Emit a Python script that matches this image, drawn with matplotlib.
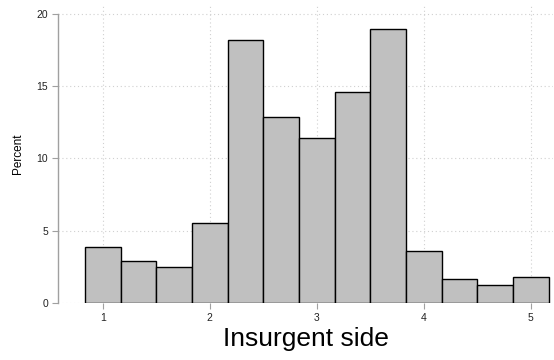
"""
Histogram of insurgent side (percent per bin), Stata-like look
"""

import matplotlib
matplotlib.use("Agg")
import matplotlib.pyplot as plt

plt.rcParams['font.family'] = ['Liberation Sans', 'DejaVu Sans']

# bin centres and percent in each bin
bin_centers = [1.0, 4/3, 5/3, 2.0, 7/3, 8/3, 3.0, 10/3, 11/3, 4.0, 13/3, 14/3, 5.0]
percent = [3.85, 2.88, 2.49, 5.56, 18.22, 12.85, 11.44, 14.58, 18.98, 3.58, 1.64, 1.27, 1.82]
bin_width = 1/3

x_ticks = [1, 2, 3, 4, 5]
y_ticks = [0, 5, 10, 15, 20]

fig = plt.figure(figsize=(5.54, 3.60), dpi=100)
ax = fig.add_axes([58/554, 1 - 303/360, 495/554, 298/360])

# grid
ax.grid(True, color='#d0d0d0', linestyle=(0, (1, 2.5)), linewidth=0.8)
ax.set_axisbelow(True)

# bars
ax.bar(bin_centers, percent, width=bin_width,
       color='#c0c0c0', edgecolor='black', linewidth=1.0)

ax.set_xlim(0.582, 5.208)
ax.set_ylim(0, 20.62)
ax.set_xticks(x_ticks)
ax.set_yticks(y_ticks)

# axis styling
for side in ['top', 'right', 'bottom']:
    ax.spines[side].set_visible(False)
ax.spines['left'].set_color('#a0a0a0')
ax.spines['left'].set_linewidth(1.0)
ax.spines['left'].set_bounds(0, 20)
ax.tick_params(axis='both', length=4, width=0.8, color='#a0a0a0',
               labelsize=7.5, labelcolor='#222222', pad=3)

ax.set_ylabel('Percent', fontsize=8.5, labelpad=9)
ax.set_xlabel('Insurgent side', fontsize=19, labelpad=3)

plt.savefig('out.png', dpi=100)
plt.close()
